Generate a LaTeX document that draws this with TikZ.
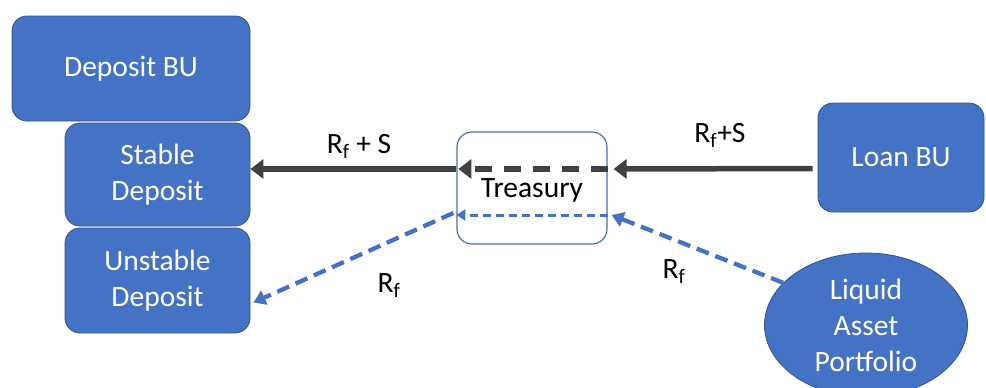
\documentclass[tikz,border=0pt]{standalone}
\usepackage{fontspec}
\setmainfont{Carlito}
\usetikzlibrary{arrows.meta,shapes.geometric}
\definecolor{obl}{HTML}{4472C4}
\definecolor{obd}{HTML}{2F528F}
\definecolor{dgr}{HTML}{404040}
\definecolor{tbd}{HTML}{4A6FB5}
\tikzset{
  bu/.style={draw=obd, line width=0.8pt, fill=obl, rounded corners=15pt, text=white, align=center, inner sep=0pt,
             font=\fontsize{29.5}{36}\selectfont},
  lbl/.style={font=\fontsize{29.5}{36}\selectfont, anchor=base, inner sep=0pt},
  darr/.style={draw=dgr, line width=5.5pt, -{Triangle[length=13pt,width=19pt]}},
  barr/.style={draw=obl, line width=4.3pt, dash pattern=on 13pt off 7pt, -{Triangle[length=12pt,width=15pt]}},
}
\begin{document}
\begin{tikzpicture}[x=1pt,y=-1pt]
\useasboundingbox (0,0) rectangle (986,388);
\node[bu, minimum width=238pt, minimum height=105pt] (depbu) at (131,68.5) {Deposit BU};
\node[bu, minimum width=185pt, minimum height=103pt] (stable) at (157.5,174.5) {Stable\\Deposit};
\node[bu, minimum width=185pt, minimum height=105pt] (unstable) at (157.5,280.5) {Unstable\\Deposit};
\node[bu, minimum width=166pt, minimum height=109pt] (loan) at (901,157.5) {Loan BU};
\node[bu, ellipse, minimum width=203pt, minimum height=144pt] (liquid) at (866,325) {Liquid\\Asset\\Portfolio};
\node[draw=tbd, line width=1.2pt, rounded corners=15pt, fill=white, minimum width=150pt, minimum height=112pt,
      font=\fontsize{29.5}{36}\selectfont, text depth=0pt, text height=18pt] (treasury) at (532,188) {Treasury};
% dark arrows
\draw[darr] ([yshift=19pt]treasury.west) -- ([yshift=19pt]stable.east |- treasury.west);
\draw[darr, shorten <=5pt] ([yshift=-11pt]loan.west) -- ([yshift=19pt,xshift=6pt]treasury.east);
\draw[darr, dash pattern=on 17pt off 12pt] ([yshift=19pt]treasury.east) -- ([yshift=19pt,xshift=2pt]treasury.west);
% blue arrows
\draw[barr] (liquid.153) -- ([yshift=-27pt,xshift=4pt]treasury.east);
\draw[barr, line width=3pt, dash pattern=on 8pt off 5pt, -{Triangle[length=9pt,width=11pt]}] ([yshift=-27pt]treasury.east) -- ([yshift=-27pt]treasury.west);
\draw[barr] ([yshift=-25pt,xshift=-3pt]treasury.west) -- ([yshift=-22pt,xshift=3pt]unstable.east);
% labels
\node[lbl] (l1) at (359,153) {R\textsubscript{f} + S};
\node[lbl] (l2) at (720,142) {R\textsubscript{f}+S};
\node[lbl] (l3) at (389,292) {R\textsubscript{f}};
\node[lbl] (l4) at (674,278) {R\textsubscript{f}};
\end{tikzpicture}
\end{document}
